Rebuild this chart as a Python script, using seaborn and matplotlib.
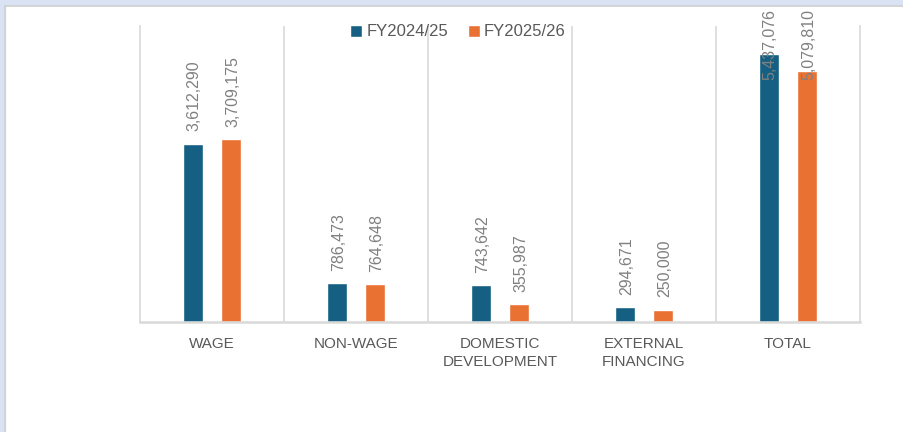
import numpy as np
import pandas as pd
import matplotlib
matplotlib.use("Agg")
import matplotlib.pyplot as plt
from matplotlib.patches import Rectangle
from matplotlib.lines import Line2D
import seaborn as sns

# chart values
categories = ["WAGE", "NON-WAGE", "DOMESTIC\nDEVELOPMENT", "EXTERNAL\nFINANCING", "TOTAL"]
years = ["FY2024/25", "FY2025/26"]
fy2024_25 = [3612290, 786473, 743642, 294671, 5437076]
fy2025_26 = [3709175, 764648, 355987, 250000, 5079810]
colors = ["#156082", "#E97132"]

df = pd.DataFrame({
    "Category": categories * 2,
    "Year": [years[0]] * len(categories) + [years[1]] * len(categories),
    "Amount": fy2024_25 + fy2025_26,
})

sns.set_style("white")
plt.rcParams["font.family"] = ["Liberation Sans", "DejaVu Sans"]

fig = plt.figure(figsize=(9.04, 4.32), dpi=100)

# window frame (light blue band on top / left)
fig.add_artist(Rectangle((0, 1 - 5 / 432), 1, 5 / 432, transform=fig.transFigure,
                         color="#dae3f3", zorder=0))
fig.add_artist(Rectangle((0, 0), 5 / 904, 1, transform=fig.transFigure,
                         color="#dae3f3", zorder=0))
fig.add_artist(Line2D([5.5 / 904, 1], [1 - 5.5 / 432, 1 - 5.5 / 432], transform=fig.transFigure,
                      color="#d0d0d0", lw=1.2))
fig.add_artist(Line2D([5.5 / 904, 5.5 / 904], [0, 1 - 5.5 / 432], transform=fig.transFigure,
                      color="#d0d0d0", lw=1.2))

ax = fig.add_axes([140 / 904, 110 / 432, 720 / 904, 296 / 432])
sns.barplot(data=df, x="Category", y="Amount", hue="Year", palette=colors,
            saturation=1, width=0.53, gap=0.47, ax=ax, errorbar=None)

ax.set_ylim(0, 6000000)
ax.set_xlim(-0.5, len(categories) - 0.5)
ax.set_yticks([])
ax.set_xlabel("")
ax.set_ylabel("")

# vertical separators between categories
ax.set_xticks(np.arange(0.5, len(categories) - 1, 1), minor=True)
ax.grid(False)
ax.grid(axis="x", which="minor", color="#d9d9d9", lw=1.2)
ax.tick_params(axis="x", which="both", length=0)
ax.tick_params(axis="x", which="major", pad=11, labelsize=11, labelcolor="#595959")
for t in ax.get_xticklabels():
    t.set_linespacing(1.3)

for side in ["left", "right"]:
    ax.spines[side].set_color("#d9d9d9")
    ax.spines[side].set_linewidth(1.2)
ax.spines["bottom"].set_color("#d9d9d9")
ax.spines["bottom"].set_linewidth(1.8)
ax.spines["top"].set_visible(False)

# data labels, pushed down when they would run out of the chart area
label_cap = 4660000
for cont in ax.containers:
    for bar in cont:
        h = bar.get_height()
        ax.annotate(f"{h:,.0f}", (bar.get_x() + bar.get_width() / 2, min(h, label_cap)),
                    xytext=(1, 9), textcoords="offset points", rotation=90,
                    ha="center", va="bottom", fontsize=11.5, color="#808080",
                    annotation_clip=False)

handles, labels = ax.get_legend_handles_labels()
ax.get_legend().remove()
fig.legend(handles, labels, loc="center", bbox_to_anchor=(458 / 904, 1 - 32 / 432),
           ncol=2, frameon=False, fontsize=12, labelcolor="#595959",
           handlelength=0.7, handleheight=0.7, handletextpad=0.25, columnspacing=1.2)

fig.savefig("out.png", dpi=100)
